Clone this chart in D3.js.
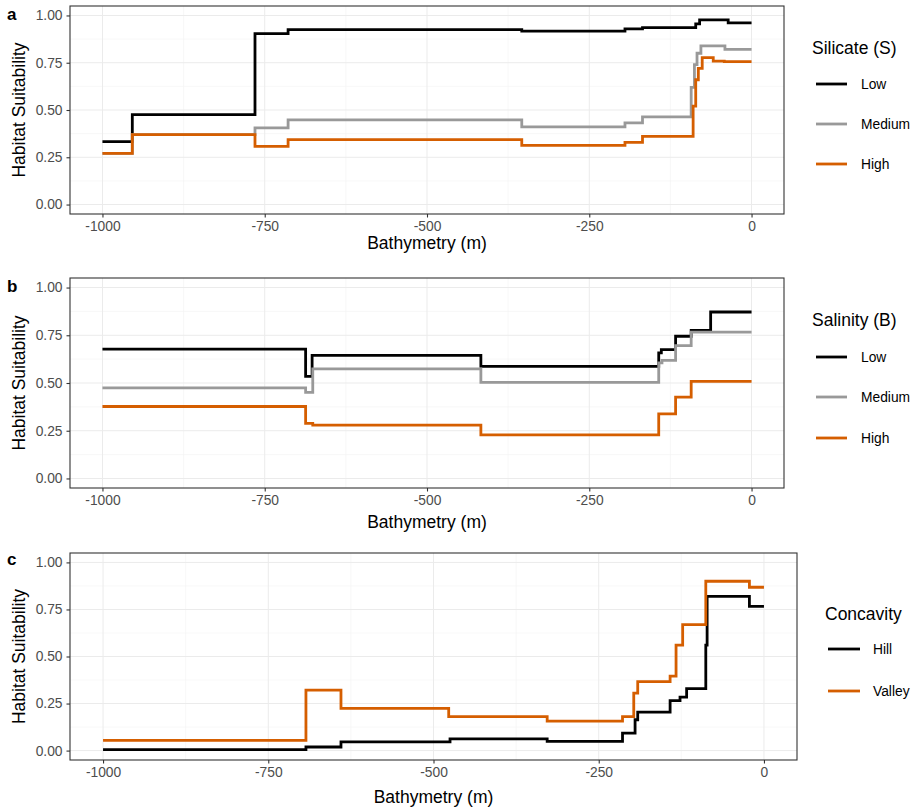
<!DOCTYPE html>
<html>
<head>
<meta charset="utf-8">
<script src="https://cdn.jsdelivr.net/npm/d3@7"></script>
<style>
  body { margin: 0; background: #fff; }
  svg { font-family: "Liberation Sans", Arial, sans-serif; }
  .grid-major { stroke: #ebebeb; stroke-width: 1; }
  .grid-minor { stroke: #f3f3f3; stroke-width: 0.6; }
  .tick-lab { fill: #4d4d4d; font-size: 13.8px; }
  .ax-title { fill: #000; font-size: 17.5px; }
</style>
</head>
<body>
<script>
//step data: [bathymetry (m), habitat suitability], each value holds until the next break
var silicateLow = [[-1000,0.333],[-954,0.476],[-765,0.904],[-714,0.925],[-354,0.917],[-195,0.929],[-168,0.936],[-86,0.955],[-80,0.977],[-36,0.961],[0,0.961]];
var silicateMedium = [[-1000,0.271],[-954,0.370],[-765,0.405],[-714,0.448],[-354,0.411],[-195,0.432],[-168,0.464],[-93,0.62],[-88,0.74],[-84,0.80],[-78,0.839],[-41,0.821],[0,0.821]];
var silicateHigh = [[-1000,0.271],[-954,0.370],[-765,0.308],[-714,0.343],[-354,0.313],[-195,0.329],[-168,0.361],[-90,0.52],[-86,0.66],[-82,0.72],[-76,0.777],[-59,0.759],[-42,0.756],[0,0.756]];

var salinityLow = [[-1000,0.677],[-687,0.535],[-677,0.645],[-417,0.587],[-143,0.658],[-139,0.675],[-117,0.745],[-93,0.775],[-63,0.872],[0,0.872]];
var salinityMedium = [[-1000,0.474],[-687,0.451],[-676,0.574],[-417,0.503],[-143,0.605],[-138,0.619],[-117,0.696],[-93,0.766],[0,0.766]];
var salinityHigh = [[-1000,0.377],[-687,0.289],[-676,0.279],[-417,0.228],[-143,0.338],[-117,0.426],[-93,0.508],[0,0.508]];

var concavityHill = [[-1000,0.005],[-693,0.019],[-640,0.046],[-475,0.062],[-328,0.049],[-214,0.093],[-195,0.164],[-191,0.204],[-142,0.266],[-127,0.284],[-117,0.329],[-88,0.56],[-86,0.819],[-22,0.766],[0,0.766]];
var concavityValley = [[-1000,0.054],[-693,0.321],[-640,0.224],[-477,0.181],[-328,0.157],[-214,0.181],[-197,0.305],[-191,0.366],[-142,0.396],[-133,0.560],[-123,0.669],[-88,0.900],[-22,0.868],[0,0.868]];

var xTicks = [-1000, -750, -500, -250, 0];
var xMinor = [-875, -625, -375, -125];
var yTicks = [0, 0.25, 0.5, 0.75, 1];
var yMinor = [0.125, 0.375, 0.625, 0.875];

var colBlack = "#000000", colGrey = "#999999", colOrange = "#d55e00";

var panels = [
  {label: "a", top: 6, bottom: 214, right: 784, xTitleY: 249, labelY: 20,
   legendTitle: "Silicate (S)", legendX: 812, legendTitleY: 54, keyY: [84, 124, 164], keyX: [816, 847], keyLabX: 861,
   series: [{name: "Low", data: silicateLow, color: colBlack},
            {name: "Medium", data: silicateMedium, color: colGrey},
            {name: "High", data: silicateHigh, color: colOrange}]},
  {label: "b", top: 278, bottom: 488, right: 784, xTitleY: 528, labelY: 292,
   legendTitle: "Salinity (B)", legendX: 812, legendTitleY: 326, keyY: [357, 397, 438], keyX: [816, 847], keyLabX: 861,
   series: [{name: "Low", data: salinityLow, color: colBlack},
            {name: "Medium", data: salinityMedium, color: colGrey},
            {name: "High", data: salinityHigh, color: colOrange}]},
  {label: "c", top: 553, bottom: 760, right: 797, xTitleY: 803, labelY: 565,
   legendTitle: "Concavity", legendX: 825, legendTitleY: 620, keyY: [649, 691], keyX: [828, 860], keyLabX: 873,
   series: [{name: "Hill", data: concavityHill, color: colBlack},
            {name: "Valley", data: concavityValley, color: colOrange}]}
];

var width = 917, height = 812, left = 70;

var svg = d3.select("body").append("svg")
    .attr("width", width)
    .attr("height", height);

panels.forEach(drawPanel);

function drawPanel(p){
    var x = d3.scaleLinear().domain([-1050, 50]).range([left, p.right]);
    var y = d3.scaleLinear().domain([-0.05, 1.05]).range([p.bottom, p.top]);
    var g = svg.append("g");

    //minor then major grid
    g.selectAll(".gxm").data(xMinor).enter().append("line")
        .attr("class", "grid-minor")
        .attr("x1", function(d){ return x(d); }).attr("x2", function(d){ return x(d); })
        .attr("y1", p.top).attr("y2", p.bottom);
    g.selectAll(".gym").data(yMinor).enter().append("line")
        .attr("class", "grid-minor")
        .attr("y1", function(d){ return y(d); }).attr("y2", function(d){ return y(d); })
        .attr("x1", left).attr("x2", p.right);
    g.selectAll(".gx").data(xTicks).enter().append("line")
        .attr("class", "grid-major")
        .attr("x1", function(d){ return x(d); }).attr("x2", function(d){ return x(d); })
        .attr("y1", p.top).attr("y2", p.bottom);
    g.selectAll(".gy").data(yTicks).enter().append("line")
        .attr("class", "grid-major")
        .attr("y1", function(d){ return y(d); }).attr("y2", function(d){ return y(d); })
        .attr("x1", left).attr("x2", p.right);

    //step lines
    var line = d3.line()
        .x(function(d){ return x(d[0]); })
        .y(function(d){ return y(d[1]); })
        .curve(d3.curveStepAfter);
    g.selectAll(".series").data(p.series).enter().append("path")
        .attr("d", function(s){ return line(s.data); })
        .attr("fill", "none")
        .attr("stroke", function(s){ return s.color; })
        .attr("stroke-width", 2.8);

    //panel border
    g.append("rect")
        .attr("x", left).attr("y", p.top)
        .attr("width", p.right - left).attr("height", p.bottom - p.top)
        .attr("fill", "none").attr("stroke", "#333").attr("stroke-width", 1.1);

    //axes
    var xAxis = d3.axisBottom(x).tickValues(xTicks).tickSize(3.5).tickPadding(4)
        .tickFormat(function(d){ return d3.format("d")(d).replace("−", "-"); });
    var xa = g.append("g").attr("transform", "translate(0," + p.bottom + ")").call(xAxis);
    var yAxis = d3.axisLeft(y).tickValues(yTicks).tickSize(3.5).tickPadding(4)
        .tickFormat(d3.format(".2f"));
    var ya = g.append("g").attr("transform", "translate(" + left + ",0)").call(yAxis);
    [xa, ya].forEach(function(a){
        a.select(".domain").remove();
        a.selectAll(".tick line").attr("stroke", "#333").attr("stroke-width", 1.1);
        a.selectAll(".tick text").attr("class", "tick-lab").attr("fill", "#4d4d4d")
            .style("font-family", "'Liberation Sans', Arial, sans-serif");
    });
    xa.selectAll(".tick text").attr("dy", "0.72em").attr("y", 7);

    //axis titles
    g.append("text").attr("class", "ax-title")
        .attr("x", (left + p.right) / 2).attr("y", p.xTitleY)
        .attr("text-anchor", "middle")
        .text("Bathymetry (m)");
    g.append("text").attr("class", "ax-title")
        .attr("transform", "translate(25," + (p.top + p.bottom) / 2 + ") rotate(-90)")
        .attr("text-anchor", "middle")
        .text("Habitat Suitability");

    //panel tag
    g.append("text")
        .attr("x", 7).attr("y", p.labelY)
        .style("font-size", "17px").style("font-weight", "bold")
        .text(p.label);

    //legend
    g.append("text").attr("class", "ax-title")
        .attr("x", p.legendX).attr("y", p.legendTitleY)
        .text(p.legendTitle);
    var keys = g.selectAll(".key").data(p.series).enter().append("g")
        .attr("transform", function(s, i){ return "translate(0," + p.keyY[i] + ")"; });
    keys.append("line")
        .attr("x1", p.keyX[0]).attr("x2", p.keyX[1])
        .attr("stroke", function(s){ return s.color; })
        .attr("stroke-width", 2.8);
    keys.append("text")
        .attr("x", p.keyLabX).attr("dy", "0.35em")
        .style("font-size", "13.8px")
        .text(function(s){ return s.name; });
}
</script>
</body>
</html>
